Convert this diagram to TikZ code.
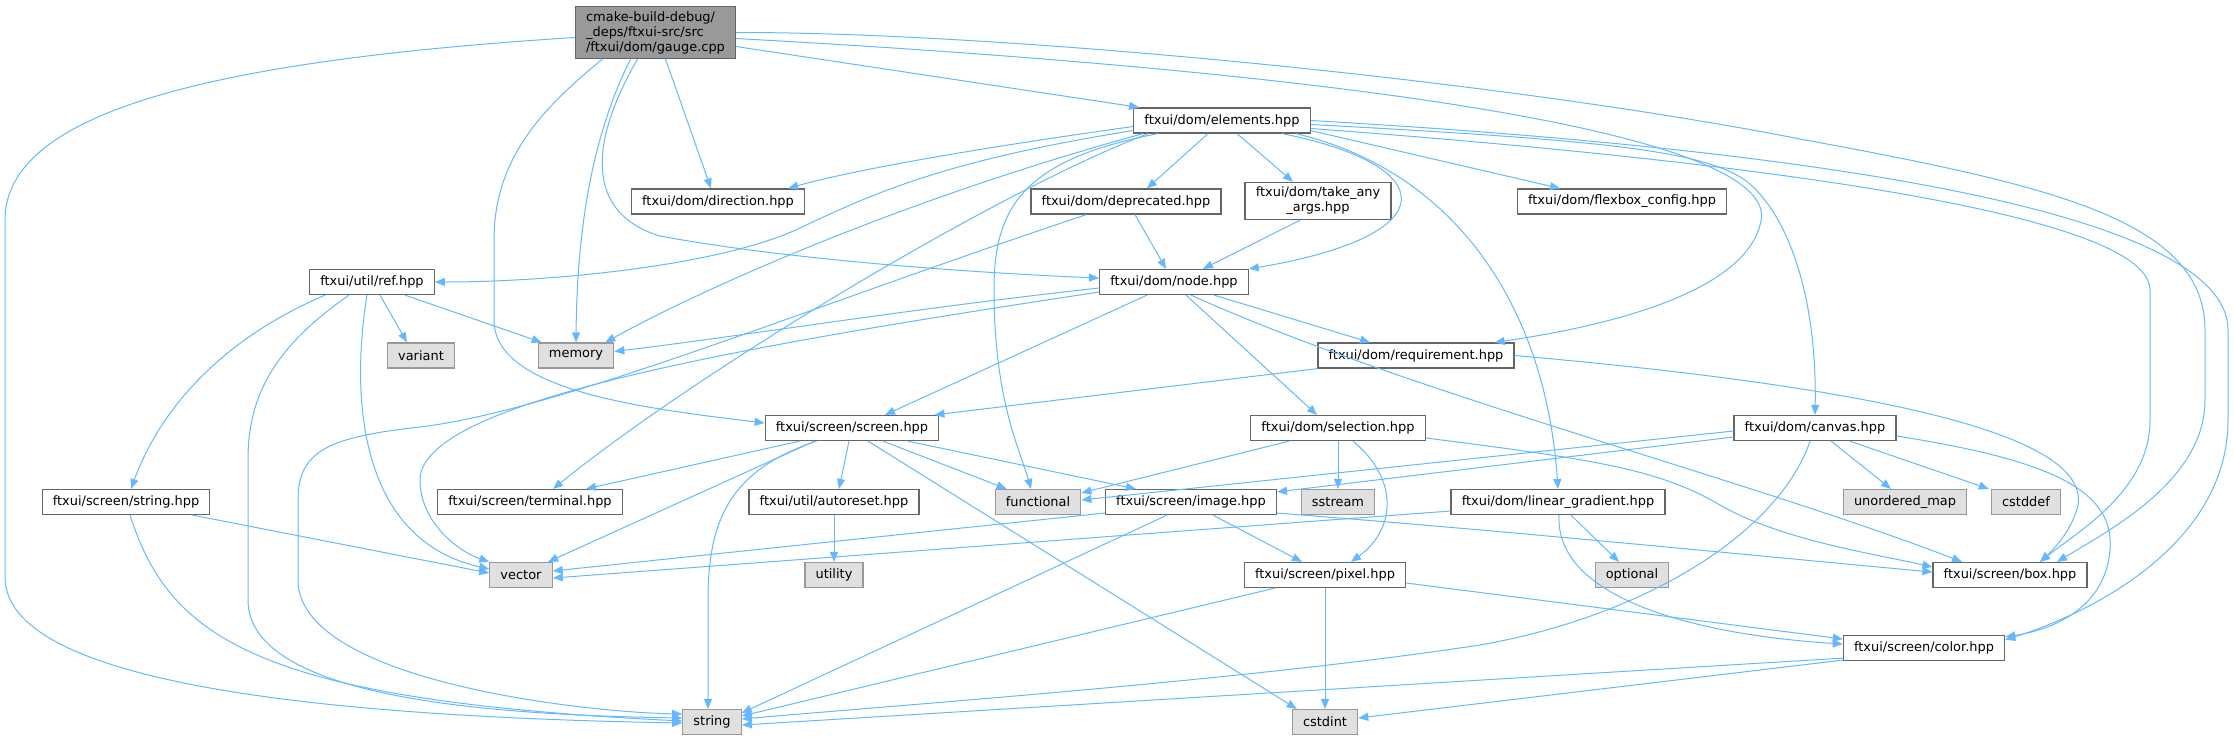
\documentclass[tikz,border=0pt]{standalone}
\usepackage{fontspec}
\setmainfont{DejaVu Sans}
\usetikzlibrary{calc,arrows.meta}
\definecolor{edgeblue}{HTML}{63B8FF}
\definecolor{rootgray}{HTML}{999999}
\definecolor{sysgray}{HTML}{E0E0E0}

\begin{document}
\begin{tikzpicture}[x=0.75pt,y=-0.75pt,>={Triangle[length=7.5pt,width=6pt]},
  every node/.style={font=\fontsize{9.7}{11.3}\selectfont,inner xsep=8pt,inner ysep=3.5pt,minimum height=18.75pt},
  hdr/.style={draw=black!60,fill=white,line width=0.9pt},
  sys/.style={draw=black!40,fill=sysgray,line width=0.9pt},
  root/.style={draw=black!60,fill=rootgray,line width=0.9pt,align=left},
  dep/.style={->,color=edgeblue,line width=0.75pt}]
  \useasboundingbox (0,0) rectangle (2234,740);

  % headers (pixel coordinates, y downwards)
  \node[root] (gauge) at (655.5,32.5) {cmake-build-debug/\\\_deps/ftxui-src/src\\/ftxui/dom/gauge.cpp};
  \node[hdr] (elements) at (1222,120.5) {ftxui/dom/elements.hpp};
  \node[hdr] (direction) at (718,201.5) {ftxui/dom/direction.hpp};
  \node[hdr] (deprecated) at (1126,201.5) {ftxui/dom/deprecated.hpp};
  \node[hdr,align=center] (takeany) at (1318,201) {ftxui/dom/take\_any\\\_args.hpp};
  \node[hdr] (flexbox) at (1622,201.5) {ftxui/dom/flexbox\_config.hpp};
  \node[hdr] (utilref) at (372,282) {ftxui/util/ref.hpp};
  \node[hdr] (domnode) at (1174,282) {ftxui/dom/node.hpp};
  \node[hdr] (requirement) at (1416,355.5) {ftxui/dom/requirement.hpp};
  \node[hdr] (screen) at (852,428) {ftxui/screen/screen.hpp};
  \node[hdr] (selection) at (1338,428) {ftxui/dom/selection.hpp};
  \node[hdr] (canvas) at (1815,428) {ftxui/dom/canvas.hpp};
  \node[hdr] (scrstring) at (126,502) {ftxui/screen/string.hpp};
  \node[hdr] (terminal) at (530,502) {ftxui/screen/terminal.hpp};
  \node[hdr] (autoreset) at (834,502) {ftxui/util/autoreset.hpp};
  \node[hdr] (image) at (1191,502) {ftxui/screen/image.hpp};
  \node[hdr] (lingrad) at (1558,502) {ftxui/dom/linear\_gradient.hpp};
  \node[hdr] (pixel) at (1325,575) {ftxui/screen/pixel.hpp};
  \node[hdr] (box) at (2010,575) {ftxui/screen/box.hpp};
  \node[hdr] (color) at (1924,648) {ftxui/screen/color.hpp};

  % system headers
  \node[sys] (variant) at (421,355.5) {variant};
  \node[sys] (memory) at (576,355.5) {memory};
  \node[sys] (functional) at (1038,502) {functional};
  \node[sys] (sstream) at (1338,502) {sstream};
  \node[sys] (unorderedmap) at (1905,502) {unordered\_map};
  \node[sys] (cstddef) at (2026,502) {cstddef};
  \node[sys] (vector) at (521,575) {vector};
  \node[sys] (utility) at (834,575) {utility};
  \node[sys] (optional) at (1632,575) {optional};
  \node[sys] (string) at (712,722) {string};
  \node[sys] (cstdint) at (1325,722) {cstdint};

  % gauge.cpp
  \draw[dep] ($(gauge.west)+(0,5)$) .. controls (220,60) and (5,110) .. (5,220) -- (5,577)
    .. controls (5,680) and (300,716) .. ($(string.west)+(0,1)$);
  \draw[dep] ($(gauge.south)+(-53,0)$) .. controls (540,110) and (494,160) .. (494,240) -- (494,320)
    .. controls (494,390) and (640,408) .. ($(screen.west)+(0,-5)$);
  \draw[dep] ($(gauge.south)+(-25,0)$) .. controls (595,130) and (577,220) .. (memory.north);
  \draw[dep] ($(gauge.south)+(-18,0)$) .. controls (585,150) and (590,215) .. (660,236)
    .. controls (800,262) and (1000,274) .. ($(domnode.west)+(0,-4)$);
  \draw[dep] ($(gauge.south)+(10,0)$) -- ($(direction.north)+(-7,0)$);
  \draw[dep] ($(gauge.east)+(0,14)$) -- ($(elements.north west)+(6,0)$);
  \draw[dep] ($(gauge.east)+(0,6)$) .. controls (1400,75) and (1790,140) .. (1760,225)
    .. controls (1740,300) and (1580,330) .. ($(requirement.north east)+(-20,0)$);
  \draw[dep] (gauge.east) .. controls (1000,32) and (1500,80) .. (1800,139)
    .. controls (2050,185) and (2205,220) .. (2205,330) -- (2205,400)
    .. controls (2205,480) and (2110,530) .. ($(box.north)+(47,0)$);

  % elements.hpp
  \draw[dep] ($(elements.west)+(0,6)$) .. controls (1000,145) and (860,168) .. ($(direction.north east)+(-17,0)$);
  \draw[dep] ($(elements.west)+(0,10)$) .. controls (950,160) and (880,190) .. (800,228)
    .. controls (720,266) and (550,282) .. (utilref.east);
  \draw[dep] ($(elements.south west)+(10,0)$) .. controls (900,200) and (700,290) .. ($(memory.north east)+(-9,0)$);
  \draw[dep] ($(elements.south west)+(15,0)$) .. controls (1000,190) and (700,370) .. ($(terminal.north)+(23,0)$);
  \draw[dep] ($(elements.south west)+(25,0)$) .. controls (1020,160) and (994,210) .. (994,290)
    .. controls (994,400) and (1020,450) .. ($(functional.north)+(-7,0)$);
  \draw[dep] ($(elements.south)+(-14,0)$) -- ($(deprecated.north)+(21,0)$);
  \draw[dep] ($(elements.south)+(15,0)$) -- ($(takeany.north)+(-25,0)$);
  \draw[dep] ($(elements.south)+(60,0)$) .. controls (1440,165) and (1450,235) .. (domnode.north east);
  \draw[dep] ($(elements.south east)+(0,-3)$) -- ($(flexbox.north)+(-62,0)$);
  \draw[dep] ($(elements.south east)+(-15,0)$) .. controls (1450,170) and (1545,300) .. (lingrad.north);
  \draw[dep] ($(elements.east)+(0,4)$) .. controls (1600,140) and (1700,150) .. (1745,180)
    .. controls (1790,215) and (1817,300) .. (canvas.north);
  \draw[dep] ($(elements.east)+(0,8)$) .. controls (1600,150) and (2150,200) .. (2150,290) -- (2150,420)
    .. controls (2150,490) and (2080,530) .. ($(box.north)+(30,0)$);
  \draw[dep] (elements.east) .. controls (1650,140) and (2228,190) .. (2228,330) -- (2228,420)
    .. controls (2228,540) and (2100,610) .. ($(color.north east)+(0,5)$);

  % deprecated.hpp, take_any_args.hpp
  \draw[dep] ($(deprecated.south)+(9,0)$) -- ($(domnode.north)+(-8,0)$);
  \draw[dep] ($(deprecated.south west)+(56,0)$) .. controls (800,310) and (560,410) .. (420,427)
    .. controls (330,437) and (298,450) .. (298,500) -- (298,580)
    .. controls (298,680) and (580,712) .. ($(string.west)+(0,-8)$);
  \draw[dep] ($(takeany.south)+(-18,0)$) -- ($(domnode.north)+(29,0)$);

  % ref.hpp
  \draw[dep] ($(utilref.south west)+(16,0)$) .. controls (220,340) and (160,410) .. ($(scrstring.north)+(5,0)$);
  \draw[dep] ($(utilref.south)+(-23,0)$) .. controls (270,350) and (248,400) .. (248,460) -- (248,600)
    .. controls (248,700) and (500,715) .. ($(string.west)+(0,-4)$);
  \draw[dep] ($(utilref.south)+(-5,0)$) .. controls (350,400) and (360,540) .. ($(vector.west)+(0,-6)$);
  \draw[dep] ($(utilref.south)+(8,0)$) -- ($(variant.north)+(-14,0)$);
  \draw[dep] ($(utilref.south east)+(-30,0)$) -- ($(memory.north west)+(4,0)$);

  % screen/string.hpp
  \draw[dep] ($(scrstring.south east)+(-18,0)$) -- ($(vector.west)+(0,-2)$);
  \draw[dep] ($(scrstring.south)+(4,0)$) .. controls (170,640) and (260,700) .. ($(string.west)+(0,-1)$);

  % node.hpp
  \draw[dep] ($(domnode.west)+(0,6)$) .. controls (900,310) and (750,335) .. ($(memory.east)+(0,-4)$);
  \draw[dep] ($(domnode.west)+(0,10)$) .. controls (750,345) and (420,400) .. (420,480)
    .. controls (420,520) and (455,550) .. (vector.north west);
  \draw[dep] ($(domnode.south)+(-27,0)$) -- ($(screen.north)+(33,0)$);
  \draw[dep] ($(domnode.south)+(12,0)$) -- ($(selection.north)+(-21,0)$);
  \draw[dep] ($(domnode.south)+(17,0)$) .. controls (1400,390) and (1750,480) .. ($(box.north)+(-48,0)$);
  \draw[dep] ($(domnode.south east)+(-35,0)$) -- ($(requirement.north)+(-46,0)$);

  % requirement.hpp
  \draw[dep] (requirement.south west) -- ($(screen.north east)+(-5,0)$);
  \draw[dep] (requirement.east) .. controls (1850,385) and (2090,430) .. (2078,505)
    .. controls (2072,530) and (2055,548) .. ($(box.north)+(30,0)$);

  % screen.hpp
  \draw[dep] ($(screen.south west)+(35,0)$) -- ($(terminal.north)+(56,0)$);
  \draw[dep] ($(screen.south west)+(50,0)$) -- ($(vector.north)+(27,0)$);
  \draw[dep] ($(screen.south west)+(52,0)$) .. controls (730,470) and (708,520) .. (708,600) -- ($(string.north)+(-4,0)$);
  \draw[dep] ($(screen.south)+(-3,0)$) -- ($(autoreset.north)+(5,0)$);
  \draw[dep] ($(screen.south)+(16,0)$) -- ($(cstdint.north west)+(5,0)$);
  \draw[dep] ($(screen.south)+(31,0)$) -- ($(functional.north west)+(12,0)$);
  \draw[dep] ($(screen.south east)+(-32,0)$) -- ($(image.north west)+(31,0)$);

  % autoreset.hpp, selection.hpp
  \draw[dep] (autoreset.south) -- (utility.north);
  \draw[dep] ($(selection.south west)+(39,0)$) -- ($(functional.north east)+(0,4)$);
  \draw[dep] (selection.south) -- (sstream.north);
  \draw[dep] ($(selection.south)+(15,0)$) .. controls (1400,480) and (1395,530) .. ($(pixel.north)+(26,0)$);
  \draw[dep] ($(selection.east)+(0,10)$) .. controls (1600,460) and (1660,470) .. (1720,505)
    .. controls (1780,540) and (1880,555) .. ($(box.west)+(0,-8)$);

  % image.hpp
  \draw[dep] ($(image.south)+(-24,0)$) -- ($(string.north east)+(0,4)$);
  \draw[dep] ($(image.west)+(0,11)$) -- ($(vector.east)+(0,-4)$);
  \draw[dep] ($(image.south)+(22,0)$) -- ($(pixel.north)+(-23,0)$);
  \draw[dep] ($(image.south east)+(0,-2)$) .. controls (1500,530) and (1800,560) .. ($(box.west)+(0,-3)$);

  % canvas.hpp
  \draw[dep] ($(canvas.west)+(0,3)$) -- ($(functional.east)+(0,-2)$);
  \draw[dep] ($(canvas.west)+(0,9)$) -- ($(image.north east)+(0,3)$);
  \draw[dep] ($(canvas.south)+(-5,0)$) .. controls (1780,530) and (1650,615) .. (1480,645)
    .. controls (1250,680) and (900,705) .. ($(string.east)+(0,-3)$);
  \draw[dep] ($(canvas.south)+(16,0)$) -- ($(unorderedmap.north)+(-14,0)$);
  \draw[dep] ($(canvas.south east)+(-47,0)$) -- ($(cstddef.north west)+(-2,0)$);
  \draw[dep] ($(canvas.east)+(0,8)$) .. controls (2050,460) and (2115,490) .. (2110,550)
    .. controls (2105,610) and (2050,630) .. ($(color.north east)+(0,2)$);

  % linear_gradient.hpp
  \draw[dep] ($(lingrad.west)+(0,9)$) -- ($(vector.east)+(0,3)$);
  \draw[dep] ($(lingrad.south)+(13,0)$) -- ($(optional.north)+(-13,0)$);
  \draw[dep] ($(lingrad.south)+(1,0)$) .. controls (1555,600) and (1700,635) .. ($(color.west)+(0,-4)$);

  % pixel.hpp, color.hpp
  \draw[dep] ($(pixel.south west)+(31,0)$) -- ($(string.east)+(0,-6)$);
  \draw[dep] (pixel.south) -- (cstdint.north);
  \draw[dep] ($(pixel.east)+(0,8)$) -- ($(color.west)+(0,-9)$);
  \draw[dep] ($(color.south west)+(0,-3)$) -- ($(string.east)+(0,3)$);
  \draw[dep] ($(color.south west)+(0,-1)$) -- ($(cstdint.east)+(0,-4)$);
\end{tikzpicture}
\end{document}
